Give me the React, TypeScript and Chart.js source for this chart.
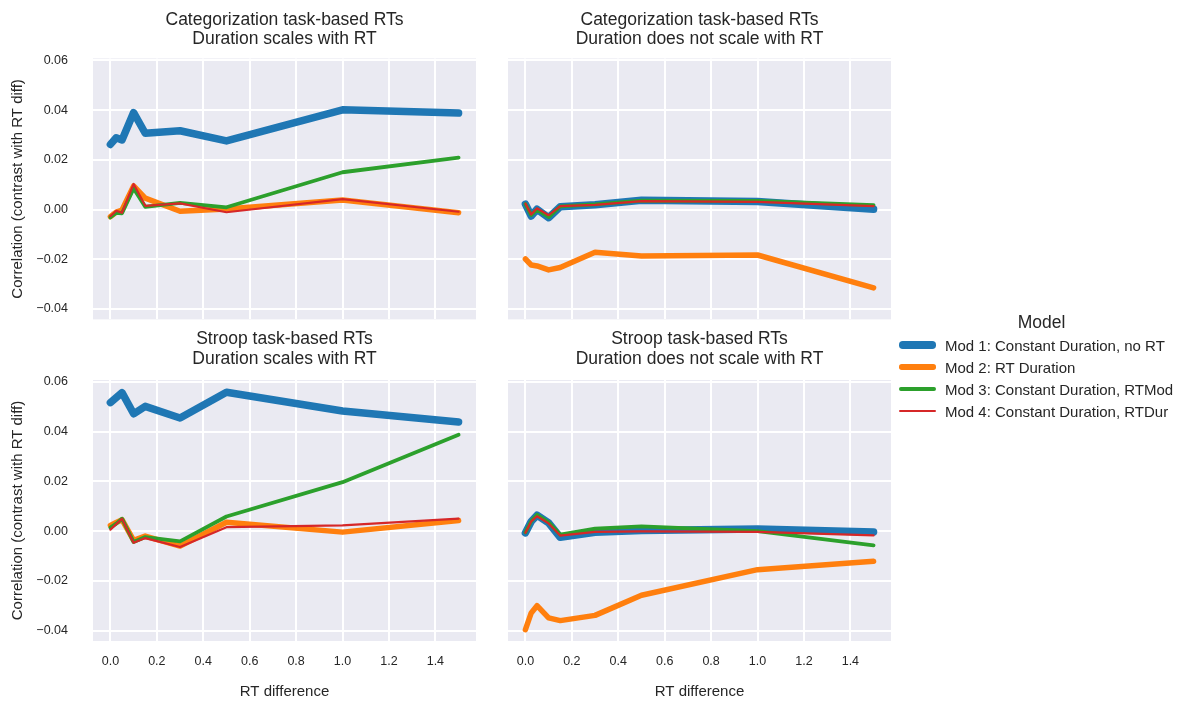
import React, { useEffect, useRef } from "react";
import { Chart, registerables } from "chart.js";

Chart.register(...registerables);

const FONT = "'Liberation Sans', Arial, Helvetica, sans-serif";
const TEXT = "#262626";

const rtDiff = [0, 0.025, 0.05, 0.1, 0.15, 0.3, 0.5, 1.0, 1.5];
const xTicks = [0, 0.2, 0.4, 0.6, 0.8, 1.0, 1.2, 1.4];
const yTicks = [-0.04, -0.02, 0, 0.02, 0.04, 0.06];
const xRange = [-0.075, 1.575];
const yRange = [-0.0442, 0.0608];

const modelNames = [
  "Mod 1: Constant Duration, no RT",
  "Mod 2: RT Duration",
  "Mod 3: Constant Duration, RTMod",
  "Mod 4: Constant Duration, RTDur",
];
const modelColors = ["#1f77b4", "#ff7f0e", "#2ca02c", "#d62728"];
const modelWidths = [7.5, 5.5, 3.8, 2.2];

// Categorization task-based RTs, duration scales with RT
const catScaleMod1 = [0.0262, 0.0289, 0.028, 0.039, 0.0307, 0.0317, 0.0276, 0.0401, 0.0388];
const catScaleMod2 = [-0.0029, -0.001, -0.0002, 0.0095, 0.0046, -0.0007, 0.0002, 0.0038, -0.0013];
const catScaleMod3 = [-0.0031, -0.0013, -0.0015, 0.0085, 0.0011, 0.0027, 0.0009, 0.015, 0.0209];
const catScaleMod4 = [-0.0027, -0.0005, -0.0013, 0.0103, 0.0015, 0.0025, -0.0011, 0.0042, -0.0009];

// Categorization task-based RTs, duration does not scale with RT
const catConstMod1 = [0.0022, -0.0026, 0.0001, -0.0033, 0.0011, 0.0019, 0.0037, 0.0032, 0.0001];
const catConstMod2 = [-0.0199, -0.0223, -0.0227, -0.0243, -0.0233, -0.0172, -0.0187, -0.0183, -0.0315];
const catConstMod3 = [0.0022, -0.0022, 0.0, -0.003, 0.0013, 0.0021, 0.0036, 0.0035, 0.0018];
const catConstMod4 = [0.0024, -0.002, 0.0005, -0.0023, 0.0014, 0.0019, 0.0034, 0.0031, 0.0014];

// Stroop task-based RTs, duration scales with RT
const stroopScaleMod1 = [0.0517, 0.0537, 0.0557, 0.0472, 0.0502, 0.0455, 0.0559, 0.0483, 0.0439];
const stroopScaleMod2 = [0.0023, 0.0035, 0.0046, -0.0037, -0.002, -0.006, 0.0036, -0.0004, 0.0043];
const stroopScaleMod3 = [0.0014, 0.003, 0.005, -0.0044, -0.0024, -0.0041, 0.0059, 0.0197, 0.0388];
const stroopScaleMod4 = [0.0006, 0.0028, 0.005, -0.0047, -0.0028, -0.0064, 0.0016, 0.0023, 0.005];

// Stroop task-based RTs, duration does not scale with RT
const stroopConstMod1 = [-0.0007, 0.0039, 0.0064, 0.0033, -0.0025, -0.0005, 0.0003, 0.0009, -0.0003];
const stroopConstMod2 = [-0.0396, -0.0329, -0.03, -0.0349, -0.036, -0.0339, -0.0258, -0.0155, -0.0121];
const stroopConstMod3 = [-0.0005, 0.004, 0.0066, 0.0035, -0.0014, 0.001, 0.0019, 0.0, -0.0057];
const stroopConstMod4 = [-0.0007, 0.0039, 0.006, 0.0031, -0.0018, -0.0003, -0.0001, -0.0003, -0.0017];

const W = 1189;
const H = 704;

type PanelSpec = {
  title: string[];
  series: number[][];
  left: number;
  right: number;
  top: number;
  bottom: number;
  showY: boolean;
  showX: boolean;
  titleOffset: number;
};

const panels: PanelSpec[] = [
  {
    title: ["Categorization task-based RTs", "Duration scales with RT"],
    series: [catScaleMod1, catScaleMod2, catScaleMod3, catScaleMod4],
    left: 93, right: 476, top: 58.4, bottom: 319.4, showY: true, showX: false, titleOffset: 10.25,
  },
  {
    title: ["Categorization task-based RTs", "Duration does not scale with RT"],
    series: [catConstMod1, catConstMod2, catConstMod3, catConstMod4],
    left: 508, right: 891, top: 58.4, bottom: 319.4, showY: false, showX: false, titleOffset: 10.25,
  },
  {
    title: ["Stroop task-based RTs", "Duration scales with RT"],
    series: [stroopScaleMod1, stroopScaleMod2, stroopScaleMod3, stroopScaleMod4],
    left: 93, right: 476, top: 380, bottom: 641, showY: true, showX: true, titleOffset: 329.6,
  },
  {
    title: ["Stroop task-based RTs", "Duration does not scale with RT"],
    series: [stroopConstMod1, stroopConstMod2, stroopConstMod3, stroopConstMod4],
    left: 508, right: 891, top: 380, bottom: 641, showY: false, showX: true, titleOffset: 329.6,
  },
];

const bgPlugin = {
  id: "panelBg",
  beforeDraw(chart: any) {
    const { ctx, chartArea } = chart;
    if (!chartArea) return;
    ctx.save();
    ctx.fillStyle = "#eaeaf2";
    ctx.fillRect(chartArea.left, chartArea.top, chartArea.right - chartArea.left, chartArea.bottom - chartArea.top);
    ctx.restore();
  },
};

function fmtY(v: number) {
  const s = Math.abs(v).toFixed(2);
  return v < -1e-9 ? "\u2212" + s : s;
}

const TITLE_SIZE = 17.5;
const TITLE_LH = 19.5;
const LABEL_SIZE = 15;

function Panel({ spec }: { spec: PanelSpec }) {
  const ref = useRef<HTMLCanvasElement | null>(null);
  useEffect(() => {
    if (!ref.current) return;
    const topRow = spec.titleOffset < 100;
    const titlePadTop = topRow ? spec.titleOffset : 0;
    const layoutTop = topRow ? 0 : spec.titleOffset;
    const titleHeightLines = TITLE_LH * spec.title.length;
    const titlePadBottom = spec.top - layoutTop - titlePadTop - titleHeightLines;
    const yAxisWidth = spec.showY ? spec.left : 0;
    const xAxisHeight = spec.showX ? H - spec.bottom : 0;
    const labelLH = LABEL_SIZE * 1.2;
    const datasets = spec.series.map((vals, i) => ({
      label: modelNames[i],
      data: rtDiff.map((x, j) => ({ x, y: vals[j] })),
      borderColor: modelColors[i],
      backgroundColor: modelColors[i],
      borderWidth: modelWidths[i],
      borderCapStyle: "round" as const,
      borderJoinStyle: "round" as const,
      pointRadius: 0,
      tension: 0,
      fill: false,
      order: 4 - i,
    }));
    const chart = new Chart(ref.current, {
      type: "line",
      data: { datasets },
      plugins: [bgPlugin],
      options: {
        responsive: false,
        animation: false,
        events: [],
        layout: {
          padding: {
            left: spec.showY ? 0 : spec.left,
            right: W - spec.right,
            top: layoutTop,
            bottom: spec.showX ? 0 : H - spec.bottom,
          },
        },
        plugins: {
          legend: { display: false },
          tooltip: { enabled: false },
          title: {
            display: true,
            text: spec.title,
            fullSize: false,
            color: TEXT,
            font: { family: FONT, size: TITLE_SIZE, weight: "normal", lineHeight: TITLE_LH / TITLE_SIZE },
            padding: { top: titlePadTop, bottom: titlePadBottom },
          },
        },
        scales: {
          x: {
            type: "linear",
            min: xRange[0],
            max: xRange[1],
            afterBuildTicks: (s: any) => {
              s.ticks = xTicks.map((v) => ({ value: v }));
            },
            afterFit: (s: any) => {
              s.height = xAxisHeight;
            },
            grid: { color: "#ffffff", lineWidth: 2, drawTicks: false },
            border: { display: false },
            ticks: {
              display: spec.showX,
              autoSkip: false,
              maxRotation: 0,
              padding: 13.5,
              color: TEXT,
              font: { family: FONT, size: 12.5 },
              callback: (v: any) => Number(v).toFixed(1),
            },
            title: {
              display: spec.showX,
              text: "RT difference",
              color: TEXT,
              font: { family: FONT, size: LABEL_SIZE },
              padding: { top: 0, bottom: 12 - labelLH / 2 },
            },
          },
          y: {
            type: "linear",
            min: yRange[0],
            max: yRange[1],
            afterBuildTicks: (s: any) => {
              s.ticks = yTicks.map((v) => ({ value: v }));
            },
            afterFit: (s: any) => {
              s.width = yAxisWidth;
            },
            grid: { color: "#ffffff", lineWidth: 2, drawTicks: false },
            border: { display: false },
            ticks: {
              display: spec.showY,
              autoSkip: false,
              padding: 25,
              color: TEXT,
              font: { family: FONT, size: 12.5 },
              callback: (v: any) => fmtY(Number(v)),
            },
            title: {
              display: spec.showY,
              text: "Correlation (contrast with RT diff)",
              color: TEXT,
              font: { family: FONT, size: LABEL_SIZE },
              padding: { top: 18 - labelLH / 2, bottom: 0 },
            },
          },
        },
      } as any,
    });
    return () => chart.destroy();
  }, [spec]);
  return (
    <canvas
      ref={ref}
      width={W}
      height={H}
      style={{ position: "absolute", left: 0, top: 0, width: W, height: H }}
    />
  );
}

const legendRows = [345, 367, 389, 411];

export default function App() {
  return (
    <div
      style={{
        position: "fixed",
        left: 0,
        top: 0,
        width: W,
        height: H,
        background: "#ffffff",
        fontFamily: FONT,
        color: TEXT,
        overflow: "hidden",
      }}
    >
      {panels.map((p, i) => (
        <Panel key={i} spec={p} />
      ))}
      <div
        style={{
          position: "absolute",
          left: 1041.5,
          top: 323.3,
          transform: "translate(-50%, -50%)",
          fontSize: 17.5,
          lineHeight: 1,
          whiteSpace: "nowrap",
        }}
      >
        Model
      </div>
      {modelNames.map((name, i) => (
        <React.Fragment key={name}>
          <div
            style={{
              position: "absolute",
              left: 899,
              top: legendRows[i] - modelWidths[i] / 2,
              width: 37,
              height: modelWidths[i],
              borderRadius: modelWidths[i] / 2,
              background: modelColors[i],
            }}
          />
          <div
            style={{
              position: "absolute",
              left: 945,
              top: legendRows[i],
              transform: "translateY(-50%)",
              fontSize: 15,
              lineHeight: 1,
              whiteSpace: "nowrap",
            }}
          >
            {name}
          </div>
        </React.Fragment>
      ))}
    </div>
  );
}
